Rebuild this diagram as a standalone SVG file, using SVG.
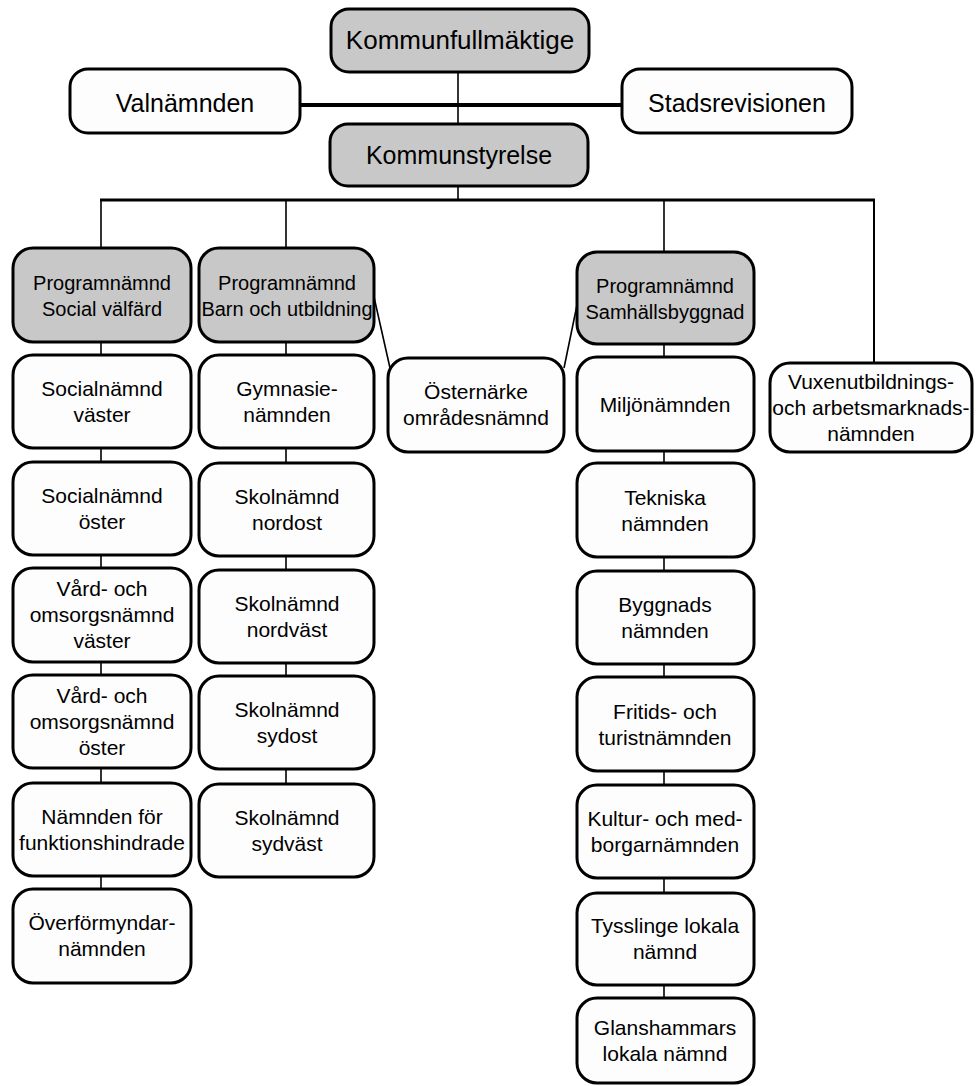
<svg xmlns="http://www.w3.org/2000/svg" width="979" height="1086" viewBox="0 0 979 1086">
<style>
.b{fill:#fdfdfd;stroke:#000;stroke-width:3}
.g{fill:#c8c8c8;stroke:#000;stroke-width:3}
.c{stroke:#000;fill:none;stroke-width:1.6}
.t{font-family:"Liberation Sans",Arial,sans-serif;font-size:21px;text-anchor:middle;fill:#000}
.p{font-size:20px}
.l{font-size:25px}
.k{font-size:26px}
</style>
<rect width="979" height="1086" fill="#fff"/>
<g id="connectors">
<line class="c" x1="458" y1="72" x2="458" y2="200"/>
<line class="c" x1="300" y1="105" x2="622" y2="105" style="stroke-width:4"/>
<line class="c" x1="100" y1="200" x2="875" y2="200" style="stroke-width:3"/>
<line class="c" x1="101" y1="200" x2="101" y2="889"/>
<line class="c" x1="286" y1="200" x2="286" y2="784"/>
<line class="c" x1="664" y1="200" x2="664" y2="998"/>
<line class="c" x1="874" y1="200" x2="874" y2="363" style="stroke-width:2"/>
<line class="c" x1="374" y1="297" x2="390" y2="368"/>
<line class="c" x1="564" y1="368" x2="577" y2="305"/>
</g>
<g id="kf"><rect class="g" x="331" y="9" width="258" height="63" rx="18"/><text class="t k" x="460" y="49">Kommunfullmäktige</text></g>
<g id="valnamnden"><rect class="b" x="70" y="69" width="230" height="64" rx="18"/><text class="t l" x="185" y="112">Valnämnden</text></g>
<g id="stadsrevisionen"><rect class="b" x="622" y="69" width="230" height="64" rx="18"/><text class="t l" x="737" y="112">Stadsrevisionen</text></g>
<g id="ks"><rect class="g" x="330" y="124" width="258" height="62" rx="18"/><text class="t l" x="459" y="164">Kommunstyrelse</text></g>

<g id="pn-social"><rect class="g" x="13" y="248" width="178" height="94" rx="20"/><text class="t p" x="102" y="290">Programnämnd</text><text class="t p" x="102" y="316">Social välfärd</text></g>
<g id="social-vaster"><rect class="b" x="13" y="355" width="178" height="93" rx="20"/><text class="t" x="102" y="396">Socialnämnd</text><text class="t" x="102" y="422">väster</text></g>
<g id="social-oster"><rect class="b" x="13" y="462" width="178" height="93" rx="20"/><text class="t" x="102" y="503">Socialnämnd</text><text class="t" x="102" y="529">öster</text></g>
<g id="vard-vaster"><rect class="b" x="13" y="568" width="178" height="94" rx="20"/><text class="t" x="102" y="596">Vård- och</text><text class="t" x="102" y="622">omsorgsnämnd</text><text class="t" x="102" y="648">väster</text></g>
<g id="vard-oster"><rect class="b" x="13" y="675" width="178" height="93" rx="20"/><text class="t" x="102" y="703">Vård- och</text><text class="t" x="102" y="729">omsorgsnämnd</text><text class="t" x="102" y="755">öster</text></g>
<g id="funktionshindrade"><rect class="b" x="13" y="783" width="178" height="93" rx="20"/><text class="t" x="102" y="824">Nämnden för</text><text class="t" x="102" y="850">funktionshindrade</text></g>
<g id="overformyndar"><rect class="b" x="13" y="889" width="178" height="94" rx="20"/><text class="t" x="102" y="930">Överförmyndar-</text><text class="t" x="102" y="956">nämnden</text></g>

<g id="pn-barn"><rect class="g" x="199" y="248" width="175" height="94" rx="20"/><text class="t p" x="287" y="290">Programnämnd</text><text class="t p" x="287" y="316">Barn och utbildning</text></g>
<g id="gymnasie"><rect class="b" x="199" y="355" width="175" height="93" rx="20"/><text class="t" x="287" y="396">Gymnasie-</text><text class="t" x="287" y="422">nämnden</text></g>
<g id="nordost"><rect class="b" x="199" y="463" width="175" height="93" rx="20"/><text class="t" x="287" y="504">Skolnämnd</text><text class="t" x="287" y="530">nordost</text></g>
<g id="nordvast"><rect class="b" x="199" y="570" width="175" height="93" rx="20"/><text class="t" x="287" y="611">Skolnämnd</text><text class="t" x="287" y="637">nordväst</text></g>
<g id="sydost"><rect class="b" x="199" y="676" width="175" height="93" rx="20"/><text class="t" x="287" y="717">Skolnämnd</text><text class="t" x="287" y="743">sydost</text></g>
<g id="sydvast"><rect class="b" x="199" y="784" width="175" height="93" rx="20"/><text class="t" x="287" y="825">Skolnämnd</text><text class="t" x="287" y="851">sydväst</text></g>

<g id="osternarke"><rect class="b" x="388" y="358" width="176" height="94" rx="20"/><text class="t" x="476" y="399">Östernärke</text><text class="t" x="476" y="425">områdesnämnd</text></g>

<g id="pn-samhall"><rect class="g" x="577" y="252" width="177" height="92" rx="20"/><text class="t p" x="665" y="293">Programnämnd</text><text class="t p" x="665" y="319">Samhällsbyggnad</text></g>
<g id="miljo"><rect class="b" x="577" y="357" width="177" height="94" rx="20"/><text class="t" x="665" y="412">Miljönämnden</text></g>
<g id="tekniska"><rect class="b" x="577" y="463" width="177" height="94" rx="20"/><text class="t" x="665" y="505">Tekniska</text><text class="t" x="665" y="531">nämnden</text></g>
<g id="byggnads"><rect class="b" x="577" y="571" width="177" height="93" rx="20"/><text class="t" x="665" y="612">Byggnads</text><text class="t" x="665" y="638">nämnden</text></g>
<g id="fritids"><rect class="b" x="577" y="677" width="177" height="94" rx="20"/><text class="t" x="665" y="719">Fritids- och</text><text class="t" x="665" y="745">turistnämnden</text></g>
<g id="kultur"><rect class="b" x="577" y="785" width="177" height="93" rx="20"/><text class="t" x="665" y="826">Kultur- och med-</text><text class="t" x="665" y="852">borgarnämnden</text></g>
<g id="tysslinge"><rect class="b" x="577" y="893" width="177" height="92" rx="20"/><text class="t" x="665" y="933">Tysslinge lokala</text><text class="t" x="665" y="959">nämnd</text></g>
<g id="glanshammars"><rect class="b" x="577" y="998" width="177" height="85" rx="20"/><text class="t" x="665" y="1035">Glanshammars</text><text class="t" x="665" y="1061">lokala nämnd</text></g>

<g id="vuxen"><rect class="b" x="770" y="363" width="202" height="89" rx="20"/><text class="t" x="871" y="389">Vuxenutbildnings-</text><text class="t" x="871" y="415">och arbetsmarknads-</text><text class="t" x="871" y="441">nämnden</text></g>
</svg>
